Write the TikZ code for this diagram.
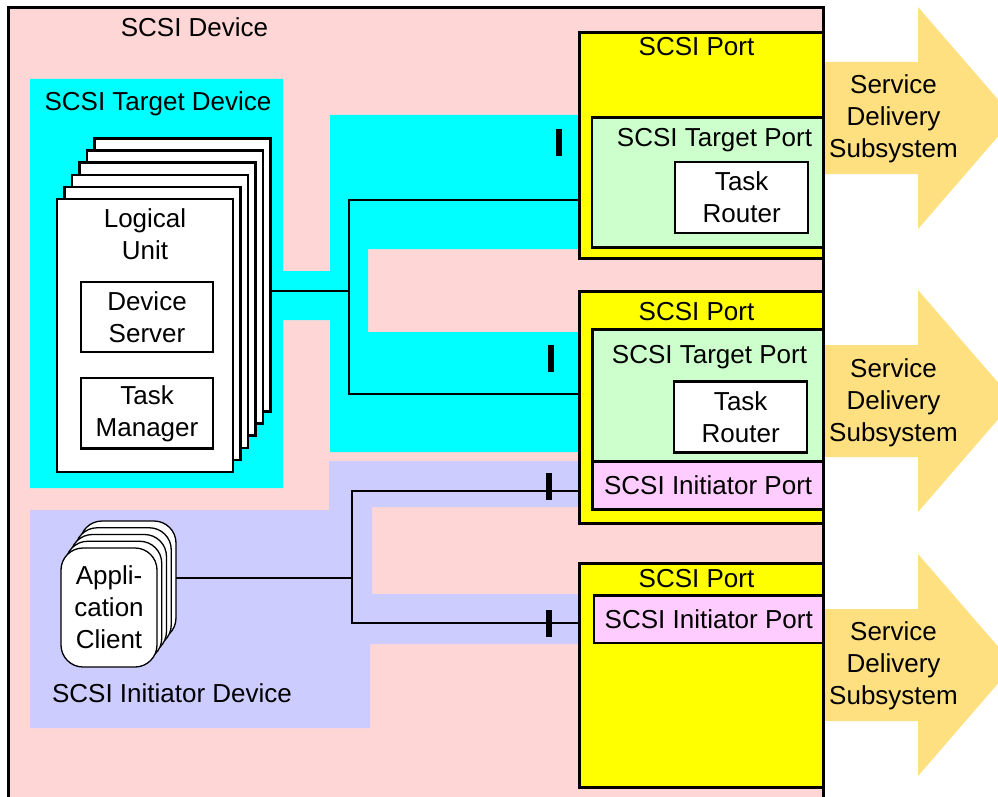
\documentclass[tikz,border=0pt]{standalone}
\usepackage{fontspec}
\setmainfont{Liberation Sans}
\usetikzlibrary{positioning,backgrounds}
\definecolor{devpink}{RGB}{255,214,214}
\definecolor{tgtcyan}{RGB}{0,255,255}
\definecolor{inilav}{RGB}{204,204,255}
\definecolor{portyel}{RGB}{255,255,0}
\definecolor{tportgrn}{RGB}{204,255,204}
\definecolor{iportpnk}{RGB}{255,204,255}
\definecolor{sdsgold}{RGB}{255,224,128}

\begin{document}
\begin{tikzpicture}[
  x=1pt, y=-1pt,
  font=\fontsize{26}{32}\selectfont,
  lbl/.style={inner sep=0pt, outer sep=0pt, align=center},
  box/.style={draw, line width=2.5pt, inner sep=0pt, outer sep=0pt, align=center},
  page/.style={box, fill=white, minimum width=176pt, minimum height=273pt, anchor=north west},
  client/.style={draw, line width=1.3pt, fill=white, rounded corners=22pt, inner sep=0pt,
                 outer sep=0pt, minimum width=96pt, minimum height=119pt, align=center},
  port/.style={box, line width=3pt, fill=portyel, anchor=north west, minimum width=244pt},
  tport/.style={box, line width=2.7pt, fill=tportgrn, anchor=north west},
  iport/.style={box, line width=2.7pt, fill=iportpnk, anchor=north west},
  router/.style={box, fill=white, minimum width=133pt, minimum height=71pt},
  wire/.style={line width=1.7pt},
  tick/.style={line width=6pt},
]
\useasboundingbox (0,0) rectangle (998,797);
\clip (0,0) rectangle (998,797);

% ==================== device and its two sub-devices ====================
\begin{scope}[on background layer]
  \fill[white] (0,0) rectangle (998,797);
  \node[box, line width=3pt, fill=devpink, anchor=north west,
        minimum width=815.8pt, minimum height=800pt] (dev) at (8,7.5) {};
  % target device with its channel to the ports
  \fill[tgtcyan] (30,79) -| (283,271) -| (330,115) -| (580,249) -| (368,332)
                 -| (580,452) -| (330,320) -| (283,488) -| (30,79) -- cycle;
  % initiator device with its channel to the ports
  \fill[inilav] (30,510) -| (329,461) -| (580,507) -| (372,594)
                -| (580,644) -| (370,728) -| (30,510) -- cycle;
\end{scope}

\node[lbl] (devlbl) at (194.5,27) {SCSI Device};
\node[lbl] (tdevlbl) at (158,104) {SCSI Target Device};
\node[lbl] (idevlbl) at (172,693) {SCSI Initiator Device};

% ==================== service delivery arrows ====================
\foreach \cy/\ty [count=\n] in {118/118.7, 401/402.7, 665/665.7} {
  \fill[sdsgold] (823,\cy-56) -- (918,\cy-56) -- (918,\cy-111) -- (1014,\cy)
                 -- (918,\cy+111) -- (918,\cy+56) -- (823,\cy+56) -- cycle;
  \node[lbl] (sds\n) at (893.5,\ty) {Service\\Delivery\\Subsystem};
}

% ==================== connectors ====================
\coordinate (tj) at (349,291);
\coordinate (ij) at (352,578);
\coordinate (t1) at (579.5,200);
\coordinate (t2) at (579.5,394);
\coordinate (i2) at (579.5,491);
\coordinate (i3) at (579.5,623);

\draw[wire] (t1) -| (tj) |- (t2);
\draw[wire] (i2) -| (ij) |- (i3);

\draw[tick] (559,129) -- (559,156);
\draw[tick] (551,345) -- (551,372);
\draw[tick] (549,473) -- (549,500);
\draw[tick] (549,610) -- (549,637);

% ==================== logical units ====================
\foreach \i in {0,...,4}
  \node[page] (lu\i) at (94.5-7.5*\i, 138.5+12.1*\i) {};
\node[page] (lu) at (57,199) {};
\node[lbl, below=9.5pt of lu.north] (lutxt) {Logical\\Unit};
\node[box, fill=white, minimum width=132pt, minimum height=70pt] (ds) at (147,317) {Device\\Server};
\node[box, fill=white, minimum width=132pt, minimum height=70.7pt] (tm) at (147,413.3) {Task\\Manager};
\draw[wire] (lu0.east |- tj) -- (tj);

% ==================== application clients ====================
\foreach \i in {0,...,3}
  \node[client] (ac\i) at (128-4.75*\i, 580.5+6.75*\i) {};
\node[client] (ac) at (109,607.5) {Appli-\\cation\\Client};
\draw[wire] (ac0.east |- ij) -- (ij);

% ==================== SCSI ports ====================
\node[port, minimum height=226pt] (p1) at (579.5,32.5) {};
\node[lbl] (p1lbl) at (696.5,47) {SCSI Port};
\node[tport, minimum width=231.5pt, minimum height=130pt] (tp1) at (592,117.3) {};
\node[lbl] (tp1lbl) at (714.5,140) {SCSI Target Port};
\node[router] (tr1) at (741.7,197.5) {Task\\Router};

\node[port, minimum height=232pt] (p2) at (579.5,291) {};
\node[lbl] (p2lbl) at (696.5,312) {SCSI Port};
\node[tport, minimum width=230.7pt, minimum height=131.8pt] (tp2) at (592.8,329.5) {};
\node[lbl] (tp2lbl) at (709.5,356.7) {SCSI Target Port};
\node[router] (tr2) at (740.7,416.8) {Task\\Router};
\node[iport, minimum width=230.7pt, minimum height=47.9pt] (ip2) at (592.8,461.3) {SCSI Initiator Port};

\node[port, minimum height=224pt] (p3) at (579.5,563) {};
\node[lbl] (p3lbl) at (696.5,578.5) {SCSI Port};
\node[iport, minimum width=229.5pt, minimum height=47.5pt] (ip3) at (594,595.5) {SCSI Initiator Port};

\end{tikzpicture}
\end{document}
